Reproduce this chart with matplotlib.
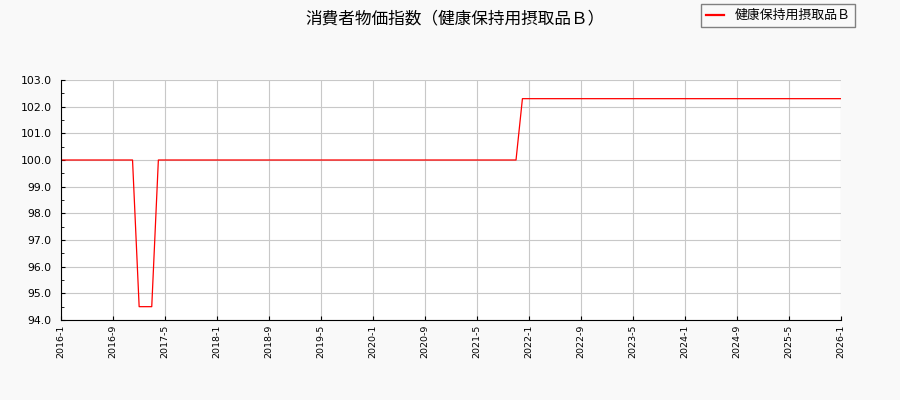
import numpy as np
import pandas as pd
import matplotlib
matplotlib.use("Agg")
import matplotlib.pyplot as plt

plt.rcParams['font.family'] = ['Noto Sans CJK JP', 'DejaVu Sans']

# ── Data ───────────────────────────────────────────────────
title        = "消費者物価指数（健康保持用摂取品Ｂ）"
series_label = "健康保持用摂取品Ｂ"

# monthly index values, 2016-1 .. 2026-1
months = pd.date_range("2016-01-01", "2026-01-01", freq="MS")
values = ([100.0] * 12            # 2016-1 .. 2016-12
          + [94.5, 94.5, 94.5]    # 2017-1 .. 2017-3
          + [100.0] * 55          # 2017-4 .. 2021-10
          + [100.0]               # 2021-11
          + [102.3] * 50)         # 2021-12 .. 2026-1

tick_dates = pd.date_range("2016-01-01", "2026-01-01", freq="8MS")
tick_labels = [f"{d.year}-{d.month}" for d in tick_dates]
y_ticks = np.arange(94.0, 103.01, 1.0)

# ── Plot ───────────────────────────────────────────────────
fig = plt.figure(figsize=(9, 4), dpi=100, facecolor="#f9f9f9")
ax = fig.add_axes([61 / 900, 80 / 400, 780 / 900, 240 / 400])
ax.set_facecolor("white")

ax.plot(months, values, color="red", linewidth=0.9, label=series_label)

ax.set_xlim(months[0], months[-1])
ax.set_ylim(94.0, 103.0)
ax.set_xticks(tick_dates)
ax.set_xticklabels(tick_labels, rotation=90, fontsize=6.8, family="DejaVu Sans")
ax.set_yticks(y_ticks)
ax.set_yticklabels([f"{v:.1f}" for v in y_ticks], fontsize=7.8, family="DejaVu Sans")
ax.set_yticks(np.arange(94.5, 103.0, 1.0), minor=True)
ax.tick_params(axis="both", which="major", direction="in", length=3)
ax.tick_params(axis="y", which="minor", direction="in", length=2.5)
ax.tick_params(axis="x", pad=3.5)
ax.tick_params(axis="y", pad=6.5)
ax.grid(True, color="#c8c8c8", linewidth=0.8)
ax.set_axisbelow(True)
for s in ["top", "right"]:
    ax.spines[s].set_visible(False)

fig.text(0.506, 0.953, title, ha="center", va="center", fontsize=12)
leg = fig.legend(loc="upper right", bbox_to_anchor=(0.9575, 1.006), fontsize=9.3,
                 fancybox=False, edgecolor="#808080", framealpha=1.0,
                 facecolor="#f9f9f9", handlelength=1.4)
for line in leg.get_lines():
    line.set_linewidth(1.6)

fig.savefig("out.png", dpi=100, facecolor=fig.get_facecolor())
